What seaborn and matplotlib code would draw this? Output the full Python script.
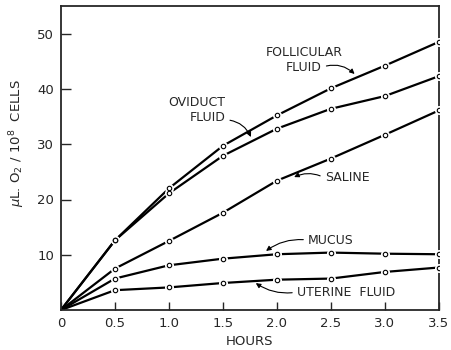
import matplotlib
matplotlib.use("Agg")
import matplotlib.pyplot as plt
import seaborn as sns
import pandas as pd

# Oxygen uptake of cells incubated in different media
hours = [0, 0.5, 1.0, 1.5, 2.0, 2.5, 3.0, 3.5]
follicular = [0, 12.6, 22.0, 29.7, 35.2, 40.1, 44.2, 48.5]
oviduct = [0, 12.6, 21.1, 27.9, 32.8, 36.4, 38.7, 42.3]
saline = [0, 7.5, 12.5, 17.6, 23.4, 27.4, 31.7, 36.1]
mucus = [0, 5.7, 8.1, 9.3, 10.1, 10.4, 10.2, 10.1]
uterine = [0, 3.6, 4.1, 4.9, 5.5, 5.7, 6.9, 7.7]

x_ticks = [0, 0.5, 1.0, 1.5, 2.0, 2.5, 3.0, 3.5]
x_tick_labels = ["0", "0.5", "1.0", "1.5", "2.0", "2.5", "3.0", "3.5"]
y_ticks = [10, 20, 30, 40, 50]

series = {
    "Follicular fluid": follicular,
    "Oviduct fluid": oviduct,
    "Saline": saline,
    "Mucus": mucus,
    "Uterine fluid": uterine,
}
df = pd.DataFrame(
    [(h, v, name) for name, vals in series.items() for h, v in zip(hours, vals)],
    columns=["hours", "uptake", "medium"],
)

sns.set_style("ticks")
plt.rcParams["font.family"] = ["DejaVu Sans"]

fig = plt.figure(figsize=(4.51, 3.5), dpi=100)
ax = fig.add_axes([0.135, 0.114, 0.838, 0.869])

black = {name: "black" for name in series}
sns.lineplot(data=df, x="hours", y="uptake", hue="medium", palette=black,
             linewidth=1.6, legend=False, ax=ax, zorder=2)

# open circles with a small white gap around each point
for name, vals in series.items():
    ax.plot(hours[1:], vals[1:], linestyle="none", marker="o", markersize=5.5,
            markerfacecolor="white", markeredgecolor="white", zorder=3)
    ax.plot(hours[1:], vals[1:], linestyle="none", marker="o", markersize=3.2,
            markerfacecolor="white", markeredgecolor="black",
            markeredgewidth=0.8, zorder=4)

ax.set_xlim(0, 3.5)
ax.set_ylim(0, 55)
ax.set_xticks(x_ticks)
ax.set_xticklabels(x_tick_labels)
ax.set_yticks(y_ticks)
ax.tick_params(axis="both", direction="in", labelsize=9.5, width=1.0, pad=5)
ax.tick_params(axis="x", length=6)
ax.tick_params(axis="y", length=7)
for s in ax.spines.values():
    s.set_linewidth(1.3)
    s.set_visible(True)

ax.set_xlabel("HOURS", fontsize=9.5)
ax.set_ylabel(r"$\mu$L. O$_2$ / 10$^8$  CELLS", fontsize=9.5)
ax.xaxis.set_label_coords(0.5, -0.082)
ax.yaxis.set_label_coords(-0.09, 0.55)

fs = 9
arrow = dict(arrowstyle="-|>", color="black", lw=0.8, mutation_scale=7,
             shrinkA=1, shrinkB=0)

ax.text(2.25, 46.5, "FOLLICULAR", fontsize=fs, ha="center", va="center")
ax.annotate("FLUID", xy=(2.72, 42.7), xytext=(2.25, 43.9), fontsize=fs,
            ha="center", va="center",
            arrowprops=dict(arrow, relpos=(1, 0.5),
                            connectionstyle="arc3,rad=-0.3"))

ax.text(1.256, 37.6, "OVIDUCT", fontsize=fs, ha="center", va="center")
ax.annotate("FLUID", xy=(1.76, 31.3), xytext=(1.357, 34.9), fontsize=fs,
            ha="center", va="center",
            arrowprops=dict(arrow, relpos=(1, 0.3),
                            connectionstyle="arc3,rad=-0.3"))

ax.annotate("SALINE", xy=(2.16, 24.05), xytext=(2.65, 23.9), fontsize=fs,
            ha="center", va="center",
            arrowprops=dict(arrow, relpos=(0, 0.5),
                            connectionstyle="arc3,rad=0.25"))

ax.annotate("MUCUS", xy=(1.90, 10.7), xytext=(2.50, 12.66), fontsize=fs,
            ha="center", va="center",
            arrowprops=dict(arrow, relpos=(0, 0.5),
                            connectionstyle="arc3,rad=0.2"))

ax.annotate("UTERINE  FLUID", xy=(1.805, 4.88), xytext=(2.64, 3.25),
            fontsize=fs, ha="center", va="center",
            arrowprops=dict(arrow, relpos=(0, 0.5),
                            connectionstyle="arc3,rad=-0.2"))

fig.savefig("out.png", dpi=100)
